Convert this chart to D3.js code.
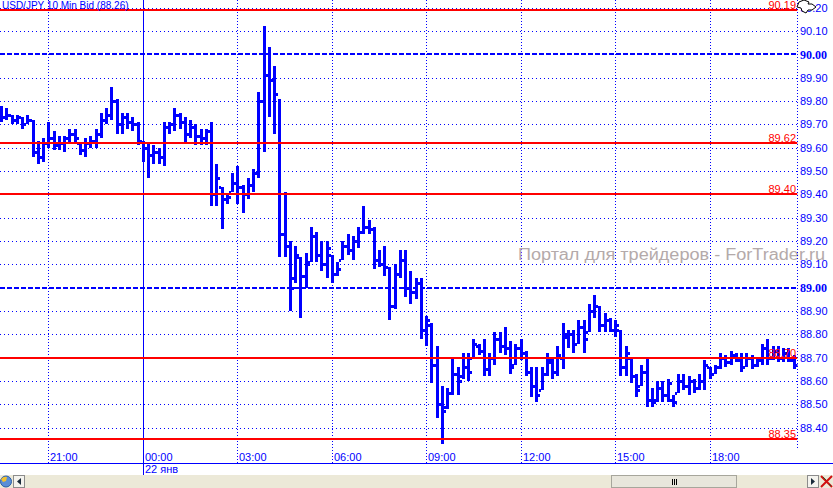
<!DOCTYPE html>
<html><head><meta charset="utf-8">
<script src="https://cdn.jsdelivr.net/npm/d3@7"></script>
<style>html,body{margin:0;padding:0;background:#fff;overflow:hidden}</style>
</head><body><svg id="c" width="833" height="488"></svg>
<script>
// ---------- data ----------
const title = "USD/JPY 10 Min Bid (88.26)";
const watermark = "Портал для трейдеров - ForTrader.ru";
const dateLabel = "22 янв";
const firstBarTime = Date.UTC(2009, 0, 21, 19, 30); // bars every 10 minutes
const barMinutes = 10;
const opens = [
 89.75,89.73,89.74,89.72,89.73,89.70,89.72,89.58,89.56,89.62,
 89.64,89.61,89.62,89.64,89.66,89.62,89.59,89.62,89.63,89.66,
 89.72,89.74,89.80,89.70,89.73,89.71,89.70,89.63,89.60,89.57,
 89.58,89.56,89.69,89.70,89.74,89.71,89.66,89.69,89.65,89.64,
 89.67,89.40,89.43,89.38,89.41,89.45,89.43,89.40,89.44,89.49,
 89.80,89.91,89.89,89.83,89.23,89.18,89.04,89.13,89.05,89.11,
 89.22,89.14,89.10,89.14,89.06,89.12,89.18,89.16,89.20,89.24,
 89.26,89.25,89.12,89.10,89.09,88.92,89.06,89.12,89.00,88.98,
 89.02,88.82,88.84,88.67,88.50,88.49,88.55,88.63,88.62,88.66,
 88.70,88.75,88.73,88.65,88.70,88.78,88.75,88.74,88.67,88.74,
 88.72,88.64,88.58,88.56,88.63,88.68,88.64,88.70,88.79,88.80,
 88.76,88.83,88.81,88.90,88.92,88.84,88.86,88.82,88.82,88.66,
 88.70,88.62,88.58,88.64,88.52,88.52,88.57,88.54,88.52,88.55,
 88.60,88.58,88.60,88.57,88.60,88.66,88.63,88.66,88.70,88.68,
 88.71,88.69,88.66,88.70,88.67,88.69,88.74,88.70,88.73,88.70,
 88.72,88.69];
const highs = [
 89.78,89.77,89.74,89.74,89.73,89.74,89.72,89.63,89.64,89.71,
 89.67,89.65,89.65,89.68,89.68,89.62,89.64,89.65,89.68,89.75,
 89.77,89.86,89.81,89.75,89.75,89.73,89.71,89.63,89.62,89.61,
 89.60,89.71,89.71,89.77,89.75,89.73,89.72,89.70,89.68,89.68,
 89.71,89.53,89.43,89.40,89.49,89.52,89.44,89.47,89.51,89.84,
 90.12,90.03,89.95,89.81,89.41,89.20,89.18,89.13,89.15,89.26,
 89.24,89.20,89.20,89.14,89.11,89.20,89.23,89.22,89.26,89.35,
 89.29,89.26,89.16,89.18,89.09,89.10,89.16,89.16,89.07,89.04,
 89.04,88.88,88.85,88.75,88.58,88.57,88.70,88.66,88.72,88.72,
 88.78,88.76,88.78,88.72,88.81,88.81,88.83,88.77,88.76,88.78,
 88.73,88.66,88.66,88.66,88.72,88.70,88.75,88.85,88.82,88.82,
 88.86,88.86,88.93,88.97,88.92,88.89,88.87,88.86,88.82,88.75,
 88.70,88.63,88.67,88.70,88.57,88.60,88.60,88.61,88.54,88.63,
 88.63,88.62,88.61,88.63,88.69,88.66,88.67,88.72,88.71,88.73,
 88.72,88.72,88.72,88.71,88.70,88.76,88.78,88.75,88.75,88.74,
 88.74,88.71];
const lows = [
 89.71,89.72,89.70,89.70,89.68,89.70,89.56,89.53,89.54,89.60,
 89.59,89.59,89.58,89.62,89.62,89.57,89.56,89.60,89.60,89.64,
 89.70,89.72,89.66,89.66,89.68,89.67,89.61,89.54,89.47,89.53,
 89.53,89.52,89.66,89.67,89.68,89.62,89.64,89.61,89.61,89.61,
 89.35,89.35,89.25,89.36,89.41,89.36,89.32,89.38,89.41,89.47,
 89.58,89.73,89.66,89.13,89.13,88.90,89.02,88.87,89.00,89.11,
 89.11,89.07,89.04,89.02,89.05,89.12,89.14,89.12,89.17,89.23,
 89.23,89.08,89.09,89.05,88.86,88.91,89.04,88.96,88.93,88.95,
 88.78,88.75,88.59,88.44,88.33,88.48,88.54,88.54,88.61,88.60,
 88.70,88.71,88.62,88.62,88.67,88.72,88.71,88.63,88.67,88.69,
 88.62,88.53,88.51,88.56,88.62,88.61,88.62,88.65,88.74,88.72,
 88.76,88.72,88.81,88.87,88.81,88.81,88.81,88.79,88.62,88.62,
 88.59,88.53,88.58,88.49,88.49,88.51,88.51,88.51,88.49,88.55,
 88.56,88.54,88.55,88.56,88.56,88.61,88.63,88.65,88.66,88.67,
 88.68,88.64,88.66,88.65,88.66,88.67,88.67,88.69,88.68,88.68,
 88.68,88.65];
const closes = [
 89.73,89.74,89.72,89.73,89.70,89.72,89.58,89.56,89.62,89.64,
 89.61,89.62,89.64,89.66,89.64,89.59,89.62,89.63,89.66,89.72,
 89.74,89.80,89.70,89.73,89.71,89.70,89.63,89.60,89.57,89.58,
 89.56,89.69,89.70,89.74,89.71,89.66,89.69,89.65,89.64,89.67,
 89.40,89.47,89.38,89.39,89.45,89.43,89.40,89.44,89.49,89.80,
 89.91,89.89,89.83,89.23,89.18,89.00,89.14,89.05,89.10,89.22,
 89.14,89.10,89.17,89.06,89.08,89.18,89.16,89.20,89.24,89.26,
 89.25,89.12,89.10,89.09,88.92,89.06,89.12,89.00,88.98,89.02,
 88.82,88.86,88.67,88.50,88.47,88.55,88.63,88.60,88.66,88.64,
 88.76,88.73,88.65,88.70,88.78,88.75,88.74,88.66,88.74,88.72,
 88.64,88.58,88.54,88.63,88.69,88.64,88.71,88.80,88.80,88.76,
 88.83,88.78,88.90,88.92,88.84,88.86,88.82,88.84,88.66,88.72,
 88.62,88.56,88.64,88.52,88.51,88.57,88.54,88.59,88.51,88.60,
 88.58,88.60,88.57,88.60,88.67,88.63,88.66,88.70,88.68,88.71,
 88.69,88.66,88.70,88.67,88.69,88.74,88.70,88.73,88.70,88.72,
 88.69,88.67];
const priceTicks = [88.4,88.5,88.6,88.7,88.8,88.9,89.0,89.1,89.2,89.3,89.4,89.5,89.6,89.7,89.8,89.9,90.0,90.1,90.2];
const majorPrices = [89.0, 90.0];
const levelLines = [90.19, 89.62, 89.40, 88.70, 88.35];

// ---------- layout ----------
const BLUE = "#0000ff", RED = "#ff0000";
const plotRight = 797.5, plotBottom = 448, axisLineY = 463.5, stripY = 475;
const svg = d3.select("#c");
const x = d3.scaleUtc()
  .domain([new Date(Date.UTC(2009,0,21,21,0)), new Date(Date.UTC(2009,0,22,18,0))])
  .range([48.3, 709.7]);
const y = d3.scaleLinear().domain([89, 90]).range([287.7, 54.3]);

svg.append("rect").attr("width",833).attr("height",488).attr("fill","#fff");
svg.append("defs").append("clipPath").attr("id","plot")
  .append("rect").attr("x",0).attr("y",0).attr("width",plotRight).attr("height",plotBottom);

const timeTicks = x.ticks(d3.utcHour.every(3)).filter(d => x(d) > 0 && x(d) < plotRight);
const fmt = d3.utcFormat("%H:%M");

// vertical grid
timeTicks.forEach(t => {
  const xx = Math.round(x(t)) + 0.5;
  const isDay = t.getUTCHours() === 0;
  svg.append("line").attr("x1",xx).attr("x2",xx).attr("y1",0)
    .attr("y2", isDay ? stripY : axisLineY)
    .attr("stroke",BLUE).attr("stroke-width",1)
    .attr("stroke-dasharray", isDay ? null : "1,2");
});

// horizontal grid
const g = svg.append("g").attr("clip-path","url(#plot)");
priceTicks.forEach(p => {
  const yy = Math.round(y(p));
  const major = majorPrices.some(m => Math.abs(m - p) < 1e-6);
  if (major) {
    g.append("line").attr("x1",0).attr("x2",plotRight).attr("y1",yy).attr("y2",yy)
      .attr("stroke",BLUE).attr("stroke-width",2).attr("stroke-dasharray","5,2");
  } else {
    g.append("line").attr("x1",0).attr("x2",plotRight).attr("y1",yy+0.5).attr("y2",yy+0.5)
      .attr("stroke",BLUE).attr("stroke-width",1).attr("stroke-dasharray","1,3");
  }
});

// watermark
svg.append("text").attr("x",518).attr("y",260).text(watermark)
  .attr("font-family","Liberation Sans, Arial, sans-serif").attr("font-size",16)
  .attr("fill","#b4aaaa").attr("textLength",307).attr("lengthAdjust","spacingAndGlyphs");

// OHLC bars
const bars = opens.map((o,i) => ({t:new Date(firstBarTime + i*barMinutes*60000), o, h:highs[i], l:lows[i], c:closes[i]}));
const bg = g.append("g").attr("fill",BLUE);
bars.forEach(b => {
  const cx = Math.round(x(b.t));
  const yh = Math.round(y(b.h)), yl = Math.round(y(b.l));
  bg.append("rect").attr("x",cx-1).attr("y",yh).attr("width",3).attr("height",Math.max(2,yl-yh));
  bg.append("rect").attr("x",cx-3).attr("y",Math.round(y(b.o))-1).attr("width",2).attr("height",3);
  bg.append("rect").attr("x",cx+2).attr("y",Math.round(y(b.c))-1).attr("width",2).attr("height",3);
});

// red level lines + labels
levelLines.forEach(p => {
  const yy = Math.round(y(p));
  g.append("line").attr("x1",0).attr("x2",plotRight).attr("y1",yy).attr("y2",yy)
    .attr("stroke",RED).attr("stroke-width",2);
  svg.append("text").attr("x",796).attr("y",yy-1.5).attr("text-anchor","end")
    .attr("font-family","Liberation Sans, Arial, sans-serif").attr("font-size",11)
    .attr("fill",RED).text(p.toFixed(2));
});

// right axis line
svg.append("line").attr("x1",plotRight).attr("x2",plotRight).attr("y1",0).attr("y2",plotBottom)
  .attr("stroke",BLUE).attr("stroke-dasharray","1,2");

// price labels
priceTicks.forEach(p => {
  const major = majorPrices.some(m => Math.abs(m - p) < 1e-6);
  svg.append("text").attr("x",800).attr("y",y(p)).attr("dy","0.36em")
    .attr("font-family", major ? "Liberation Serif, Times New Roman, serif" : "Liberation Sans, Arial, sans-serif")
    .attr("font-weight", major ? "bold" : "normal")
    .attr("font-size", major ? 12 : 11)
    .attr("fill",BLUE).text(p.toFixed(2));
});

// top-right cursor icon (approx)
svg.append("path").attr("d","M799,2 L804,0 L809,2 L808,4 L812,4 L816,7 L812,10 L808,10 L806,13 L802,11 L801,8 L797,7 Z")
  .attr("fill","#fff").attr("stroke","#000").attr("stroke-width",1);

// time labels
timeTicks.forEach(t => {
  svg.append("text").attr("x",Math.round(x(t))+2).attr("y",461)
    .attr("font-family","Liberation Sans, Arial, sans-serif").attr("font-size",11)
    .attr("fill",BLUE).text(fmt(t));
});
const midnight = timeTicks.find(t => t.getUTCHours() === 0);
svg.append("text").attr("x",Math.round(x(midnight))+2).attr("y",473)
  .attr("font-family","Liberation Sans, Arial, sans-serif").attr("font-size",11)
  .attr("fill",BLUE).text(dateLabel);

// bottom axis line
svg.append("line").attr("x1",0).attr("x2",833).attr("y1",axisLineY).attr("y2",axisLineY)
  .attr("stroke",BLUE).attr("stroke-width",1);

// title
svg.append("text").attr("x",2).attr("y",9)
  .attr("font-family","Liberation Sans, Arial, sans-serif").attr("font-size",10)
  .attr("fill",BLUE).text(title);

// bottom strip (scrollbar)
svg.append("rect").attr("x",0).attr("y",stripY).attr("width",833).attr("height",13).attr("fill","#ece9d8");
svg.append("rect").attr("x",611.5).attr("y",stripY+0.5).attr("width",125).attr("height",12)
  .attr("fill","#e8e6dc").attr("stroke","#a7a69c");
[-2,0,2].forEach(d => svg.append("line").attr("x1",674.5+d).attr("x2",674.5+d).attr("y1",479).attr("y2",485).attr("stroke","#000"));
// left button
svg.append("rect").attr("x",13.5).attr("y",stripY+0.5).attr("width",11).attr("height",12).attr("fill","#f4f3ee").attr("stroke","#8c8c8c");
svg.append("path").attr("d","M17,481.5 L21,478 L21,485 Z").attr("fill","#1a2a3a");
// right button
svg.append("rect").attr("x",807.5).attr("y",stripY+0.5).attr("width",11).attr("height",12).attr("fill","#f4f3ee").attr("stroke","#8c8c8c");
svg.append("path").attr("d","M811,478 L815,481.5 L811,485 Z").attr("fill","#1a2a3a");
// close icon
svg.append("path").attr("d","M821,476 L832,487 M832,476 L821,487").attr("stroke","#d01010").attr("stroke-width",2);
svg.append("path").attr("d","M823,477 L826,480 M829,484 L831,486").attr("stroke","#2a5a2a").attr("stroke-width",1);
// globe icon
svg.append("circle").attr("cx",6).attr("cy",481.5).attr("r",5.5).attr("fill","#5b8ed6").attr("stroke","#2b5ea6");
svg.append("path").attr("d","M1,479 Q4,476 7,477 L6,481 L3,482 Z").attr("fill","#f2c230");
</script></body></html>
